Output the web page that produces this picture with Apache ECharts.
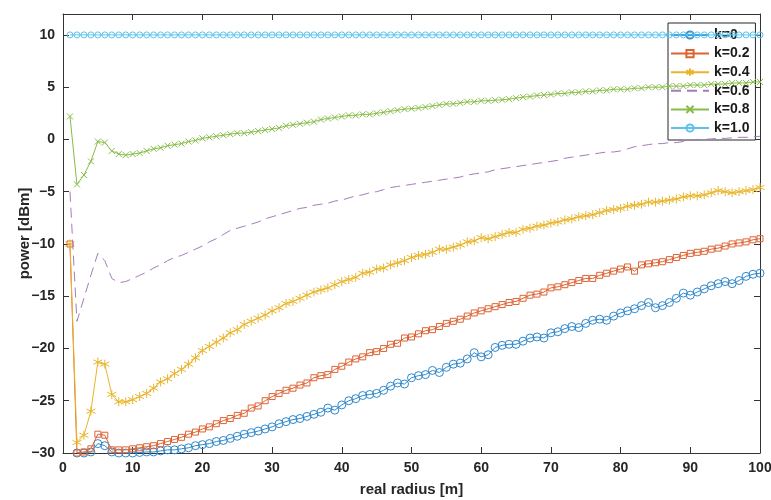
<!DOCTYPE html>
<html>
<head>
<meta charset="utf-8">
<script src="https://cdn.jsdelivr.net/npm/echarts@6/dist/echarts.min.js"></script>
<style>
html,body{margin:0;padding:0;background:#fff;}
#chart{width:771px;height:500px;}
</style>
</head>
<body>
<div id="chart"></div>
<script>
var radius = [1,2,3,4,5,6,7,8,9,10,11,12,13,14,15,16,17,18,19,20,21,22,23,24,25,26,27,28,29,30,31,32,33,34,35,36,37,38,39,40,41,42,43,44,45,46,47,48,49,50,51,52,53,54,55,56,57,58,59,60,61,62,63,64,65,66,67,68,69,70,71,72,73,74,75,76,77,78,79,80,81,82,83,84,85,86,87,88,89,90,91,92,93,94,95,96,97,98,99,100];

var k0 = [null,-30.0,-30.0,-29.9,-29.1,-29.3,-29.9,-30.0,-30.0,-30.0,
-29.95,-29.9,-29.9,-29.8,-29.7,-29.7,-29.6,-29.5,-29.3,-29.2,
-29.1,-28.9,-28.8,-28.6,-28.4,-28.2,-28.05,-27.9,-27.7,-27.5,
-27.2,-27.0,-26.8,-26.7,-26.5,-26.3,-26.1,-25.7,-25.9,-25.4,
-25.0,-24.8,-24.5,-24.4,-24.3,-24.0,-23.6,-23.3,-23.4,-22.8,
-22.6,-22.5,-22.1,-22.3,-21.8,-21.5,-21.4,-21.0,-20.4,-20.8,
-20.6,-19.9,-19.7,-19.6,-19.6,-19.3,-19.0,-18.9,-19.0,-18.5,
-18.4,-18.1,-17.9,-18.0,-17.6,-17.3,-17.2,-17.3,-16.9,-16.6,
-16.4,-16.2,-15.9,-15.6,-16.1,-15.9,-15.6,-15.2,-14.7,-14.9,
-14.6,-14.3,-14.0,-13.8,-13.6,-13.8,-13.5,-13.1,-12.9,-12.8];

var k02 = [-10.0,-30.0,-29.9,-29.6,-28.2,-28.3,-29.7,-29.7,-29.7,-29.6,
-29.5,-29.4,-29.3,-29.1,-28.9,-28.7,-28.5,-28.2,-28.0,-27.7,
-27.5,-27.2,-26.9,-26.7,-26.4,-26.2,-25.7,-25.5,-25.0,-24.6,
-24.3,-24.0,-23.8,-23.5,-23.3,-22.8,-22.6,-22.5,-22.0,-21.7,
-21.3,-21.0,-20.8,-20.4,-20.3,-20.0,-19.6,-19.5,-19.0,-18.9,
-18.6,-18.3,-18.2,-17.9,-17.6,-17.4,-17.2,-16.9,-16.6,-16.4,
-16.2,-16.0,-15.8,-15.6,-15.5,-15.2,-14.9,-14.8,-14.6,-14.2,
-14.1,-13.9,-13.7,-13.5,-13.3,-13.3,-13.0,-12.8,-12.6,-12.4,
-12.2,-12.6,-12.0,-11.9,-11.8,-11.7,-11.5,-11.3,-11.1,-10.9,
-10.8,-10.7,-10.5,-10.4,-10.2,-10.0,-9.9,-9.8,-9.6,-9.5];

var k04 = [-10.0,-29.0,-28.3,-26.0,-21.3,-21.5,-24.4,-25.1,-25.1,-24.9,
-24.6,-24.3,-23.8,-23.2,-22.9,-22.4,-22.0,-21.5,-20.9,-20.2,
-19.8,-19.4,-19.0,-18.5,-18.2,-17.7,-17.4,-17.1,-16.8,-16.4,
-16.1,-15.7,-15.5,-15.2,-14.9,-14.6,-14.4,-14.2,-13.9,-13.6,
-13.4,-13.2,-12.8,-12.7,-12.4,-12.3,-12.0,-11.8,-11.6,-11.3,
-11.1,-11.0,-10.8,-10.5,-10.5,-10.3,-10.1,-9.8,-9.7,-9.4,
-9.5,-9.3,-9.1,-8.9,-8.9,-8.6,-8.5,-8.3,-8.2,-8.0,
-7.9,-7.7,-7.6,-7.4,-7.3,-7.2,-7.0,-6.8,-6.7,-6.6,
-6.4,-6.3,-6.2,-6.0,-6.0,-5.9,-5.8,-5.7,-5.5,-5.4,
-5.4,-5.3,-5.1,-4.9,-5.0,-5.1,-5.0,-4.9,-4.8,-4.6];

var k06 = [-5.0,-17.4,-15.2,-13.0,-10.9,-11.6,-13.3,-13.7,-13.6,-13.3,
-13.0,-12.7,-12.3,-12.0,-11.6,-11.3,-11.1,-10.8,-10.5,-10.2,
-9.8,-9.5,-9.1,-8.7,-8.5,-8.3,-8.1,-7.9,-7.6,-7.4,
-7.2,-7.0,-6.8,-6.6,-6.5,-6.3,-6.2,-6.1,-5.9,-5.8,
-5.6,-5.4,-5.3,-5.1,-5.0,-4.8,-4.6,-4.5,-4.4,-4.3,
-4.2,-4.1,-4.0,-3.9,-3.8,-3.7,-3.6,-3.4,-3.3,-3.2,
-3.1,-2.9,-2.8,-2.7,-2.6,-2.5,-2.4,-2.3,-2.2,-2.1,
-2.0,-1.8,-1.7,-1.6,-1.5,-1.4,-1.3,-1.2,-1.2,-1.1,
-0.9,-0.7,-0.6,-0.5,-0.4,-0.4,-0.3,-0.3,-0.2,-0.1,
0.0,0.0,0.05,0.1,0.1,0.15,0.2,0.2,0.25,0.3];

var k08 = [2.2,-4.3,-3.4,-2.1,-0.2,-0.3,-1.1,-1.4,-1.5,-1.4,
-1.3,-1.1,-0.9,-0.8,-0.6,-0.5,-0.4,-0.2,-0.1,0.1,
0.2,0.3,0.4,0.5,0.6,0.6,0.7,0.8,0.9,1.0,
1.1,1.3,1.4,1.5,1.6,1.7,1.9,2.0,2.1,2.2,
2.3,2.3,2.4,2.4,2.5,2.6,2.7,2.8,2.9,2.95,
3.0,3.1,3.2,3.3,3.4,3.4,3.5,3.6,3.6,3.7,
3.7,3.75,3.8,3.85,3.95,4.05,4.1,4.2,4.25,4.3,
4.4,4.4,4.5,4.5,4.6,4.6,4.7,4.7,4.8,4.8,
4.8,4.9,4.9,5.0,5.0,5.0,5.1,5.1,5.1,5.2,
5.2,5.2,5.3,5.3,5.3,5.4,5.4,5.4,5.5,5.5];

var k10 = [10,10,10,10,10,10,10,10,10,10,10,10,10,10,10,10,10,10,10,10,
10,10,10,10,10,10,10,10,10,10,10,10,10,10,10,10,10,10,10,10,
10,10,10,10,10,10,10,10,10,10,10,10,10,10,10,10,10,10,10,10,
10,10,10,10,10,10,10,10,10,10,10,10,10,10,10,10,10,10,10,10,
10,10,10,10,10,10,10,10,10,10,10,10,10,10,10,10,10,10,10,10];

var names = ['k=0','k=0.2','k=0.4','k=0.6','k=0.8','k=1.0'];
var colors = ['#2f88cc','#dd6333','#eab52a','#a47cba','#88bc48','#5cc3ee'];
var yTicks = [-30,-25,-20,-15,-10,-5,0,5,10];
var xTicks = [0,10,20,30,40,50,60,70,80,90,100];

var FONT = 'Liberation Sans, Arial, sans-serif';
var AX = '#333333';
var STAR = 'path://M0,-10 L0,10 M-8.66,-5 L8.66,5 M-8.66,5 L8.66,-5 M0,-10 Z';
var CROSS = 'path://M-10,-10 L10,10 M-10,10 L10,-10';

function pairs(arr){ return radius.map(function(r,i){ return [r, arr[i]]; }); }

function mkSeries(i, data, symbol, size, dashed){
  var c = colors[i];
  return {
    name: names[i], type: 'line', data: pairs(data),
    symbol: symbol, symbolSize: size, showSymbol: symbol !== 'none',
    clip: true, connectNulls: false,
    color: c,
    lineStyle: {color: c, width: 1, type: dashed ? [10,6] : 'solid'},
    itemStyle: {color: 'rgba(0,0,0,0)', borderColor: c, borderWidth: 1},
    emphasis: {disabled: true},
    z: 2 + i
  };
}

var chart = echarts.init(document.getElementById('chart'), null, {renderer: 'canvas'});
var yFmt = function(v){ if (yTicks.indexOf(v) < 0) return ''; return String(v).replace('-', '\u2212'); };
var xFmt = function(v){ return xTicks.indexOf(v) < 0 ? '' : String(v); };

var legendData = names.map(function(n, i){
  if (i === 3) return {name: n, itemStyle: {color: 'rgba(0,0,0,0)', borderColor: 'rgba(0,0,0,0)', borderWidth: 0}};
  return {name: n};
});

chart.setOption({
  animation: false,
  backgroundColor: '#fff',
  grid: {left: 63, right: 11, top: 14, bottom: 47, show: false, containLabel: false, outerBoundsMode: 'none'},
  legend: {
    orient: 'vertical', left: 668, top: 23,
    backgroundColor: '#fff', borderColor: '#262626', borderWidth: 1,
    padding: [5, 6, 5, 2],
    itemWidth: 38, itemHeight: 9, itemGap: 4.6,
    textStyle: {fontFamily: FONT, fontWeight: 'bold', fontSize: 14, lineHeight: 14, color: '#1a1a1a'},
    data: legendData
  },
  xAxis: [{
    type: 'value', min: 0, max: 100, interval: 10, position: 'bottom',
    name: 'real radius [m]', nameLocation: 'middle', nameGap: 29, nameMoveOverlap: false,
    nameTextStyle: {fontFamily: FONT, fontWeight: 'bold', fontSize: 15, color: '#262626'},
    axisLine: {show: true, onZero: false, lineStyle: {color: AX, width: 1}},
    axisTick: {show: true, inside: true, length: 6, lineStyle: {color: AX}},
    axisLabel: {fontFamily: FONT, fontWeight: 'bold', fontSize: 14, color: '#262626', margin: 8, formatter: xFmt},
    splitLine: {show: false}
  },{
    type: 'value', min: 0, max: 100, interval: 10, position: 'top',
    axisLine: {show: true, onZero: false, lineStyle: {color: AX, width: 1}},
    axisTick: {show: true, inside: true, length: 6, lineStyle: {color: AX}},
    axisLabel: {show: false}, splitLine: {show: false}
  }],
  yAxis: [{
    type: 'value', min: -30, max: 12, interval: 5, position: 'left',
    name: 'power [dBm]', nameLocation: 'middle', nameGap: 31, nameRotate: 90, nameMoveOverlap: false,
    nameTextStyle: {fontFamily: FONT, fontWeight: 'bold', fontSize: 15, color: '#262626'},
    axisLine: {show: true, onZero: false, lineStyle: {color: AX, width: 1}},
    axisTick: {show: true, inside: true, length: 6, lineStyle: {color: AX}},
    axisLabel: {fontFamily: FONT, fontWeight: 'bold', fontSize: 14, color: '#262626', margin: 8, formatter: yFmt,
      showMaxLabel: false},
    splitLine: {show: false}
  },{
    type: 'value', min: -30, max: 12, interval: 5, position: 'right',
    axisLine: {show: true, onZero: false, lineStyle: {color: AX, width: 1}},
    axisTick: {show: true, inside: true, length: 6, lineStyle: {color: AX}},
    axisLabel: {show: false}, splitLine: {show: false}
  }],
  series: [
    mkSeries(0, k0, 'circle', 8, false),
    mkSeries(1, k02, 'rect', 6, false),
    mkSeries(2, k04, STAR, 9, false),
    mkSeries(3, k06, 'none', 0, true),
    mkSeries(4, k08, CROSS, 6, false),
    mkSeries(5, k10, 'circle', 6, false)
  ]
});
</script>
</body>
</html>
